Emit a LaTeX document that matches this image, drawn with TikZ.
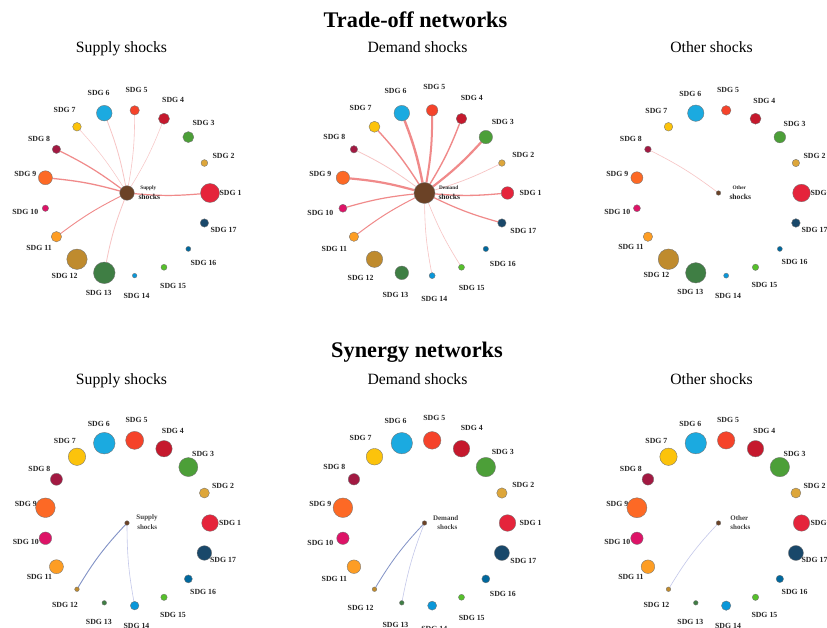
\documentclass[tikz,border=0pt]{standalone}
\usepackage{fontspec}
\setmainfont{Liberation Serif}
\usetikzlibrary{backgrounds}

% official SDG palette
\definecolor{sdg1}{HTML}{E5243B}
\definecolor{sdg2}{HTML}{DDA63A}
\definecolor{sdg3}{HTML}{4C9F38}
\definecolor{sdg4}{HTML}{C5192D}
\definecolor{sdg5}{HTML}{F5432A}
\definecolor{sdg6}{HTML}{1BAAE0}
\definecolor{sdg7}{HTML}{FCC30B}
\definecolor{sdg8}{HTML}{A21942}
\definecolor{sdg9}{HTML}{FD6925}
\definecolor{sdg10}{HTML}{DD1367}
\definecolor{sdg11}{HTML}{FD9D24}
\definecolor{sdg12}{HTML}{BF8B2E}
\definecolor{sdg13}{HTML}{3F7E44}
\definecolor{sdg14}{HTML}{0A97D9}
\definecolor{sdg15}{HTML}{56C02B}
\definecolor{sdg16}{HTML}{00689D}
\definecolor{sdg17}{HTML}{19486A}
\definecolor{shock}{HTML}{6B4226}
\definecolor{tradeA}{HTML}{F08A8A}
\definecolor{tradeB}{HTML}{F7C4C4}
\definecolor{synA}{HTML}{8292C6}
\definecolor{synB}{HTML}{C4C8EA}

\tikzset{
  sdgnode/.style={circle, draw=black!55, line width=0.35pt, inner sep=0pt, outer sep=0pt},
  sdglabel/.style={font=\bfseries\fontsize{7.8}{9}\selectfont, text=black!85, inner sep=0pt},
  bigtitle/.style={font=\bfseries\fontsize{22.3}{26}\selectfont, anchor=base},
  subtitle/.style={font=\fontsize{15.7}{18}\selectfont, anchor=base},
  shocktiny/.style={font=\bfseries\fontsize{5.3}{6}\selectfont, text=black!85, inner sep=0pt},
  shocktext/.style={font=\bfseries\fontsize{7.6}{9}\selectfont, text=black!85, inner sep=0pt},
  synshock/.style={font=\bfseries\fontsize{7}{8}\selectfont, text=black!75, inner sep=0pt},
  tlinkA/.style={draw=tradeA, line width=#1},
  tlinkB/.style={draw=tradeB, line width=#1},
}

% ring of 17 SDG nodes: #1 prefix, #2/#3 centre, #4 label radius, #5 list k/radius
\newcommand\sdgring[5]{%
  \foreach \k/\r in {#5} {%
    \pgfmathsetmacro\ang{(\k-1)*360/17}%
    \node[sdglabel] (#1l\k) at ({#2+#4*cos(\ang)},{#3-#4*sin(\ang)}) {SDG \k};
  }%
  \foreach \k/\r in {#5} {%
    \pgfmathsetmacro\ang{(\k-1)*360/17}%
    \node[sdgnode, fill=sdg\k, minimum size={2*\r pt}] (#1s\k) at ({#2+83*cos(\ang)},{#3-83*sin(\ang)}) {};
  }%
}

\begin{document}
\begin{tikzpicture}[x=1pt, y=-1pt]
\useasboundingbox (0,0) rectangle (827,628);

% headings
\node[bigtitle] (t1) at (415.5,28) {Trade-off networks};
\node[subtitle] (h1) at (121.5,53) {Supply shocks};
\node[subtitle] (h2) at (417.5,53) {Demand shocks};
\node[subtitle] (h3) at (711.5,53) {Other shocks};
\node[bigtitle] (t2) at (417,357) {Synergy networks};
\node[subtitle] (h4) at (121.5,384) {Supply shocks};
\node[subtitle] (h5) at (417.5,384) {Demand shocks};
\node[subtitle] (h6) at (711.5,384) {Other shocks};

% ---- trade-off, supply
\sdgring{a}{127}{193}{103.5}{1/9.5,2/3.4,3/5.5,4/5.5,5/4.7,6/7.8,7/4.3,8/4.2,9/7,10/3.2,11/5.2,12/10.2,13/10.8,14/2.3,15/3,16/2.5,17/4.2}
\node[sdgnode, fill=shock, minimum size=14.6pt] (ac) at (127,193) {};
\node[shocktiny] (at1) at (148.3,188.3) {Supply};
\node[shocktext] (at2) at (149.3,197) {shocks};

% ---- trade-off, demand
\sdgring{b}{424.5}{193}{106}{1/6.3,2/3.3,3/6.7,4/5.3,5/5.7,6/7.8,7/5.5,8/3.7,9/6.7,10/4,11/4.7,12/8.2,13/6.8,14/3,15/3,16/2.7,17/4.2}
\node[sdgnode, fill=shock, minimum size=21pt] (bc) at (424.5,193) {};
\node[shocktiny] (bt1) at (448.7,188) {Demand};
\node[shocktext] (bt2) at (449.3,197) {shocks};

% ---- trade-off, other
\sdgring{c}{718.5}{193}{103}{1/8.8,2/3.7,3/5.8,4/5.5,5/4.8,6/8.2,7/4.3,8/3.3,9/6,10/3.5,11/4.7,12/10.3,13/10.2,14/2.5,15/3.2,16/2.5,17/4.3}
\node[sdgnode, fill=shock, minimum size=4.6pt] (cc) at (718.5,193) {};
\node[shocktiny] (ct1) at (739.3,188) {Other};
\node[shocktext] (ct2) at (740.3,197) {shocks};

% ---- synergy, supply
\sdgring{d}{127}{523}{103}{1/8.3,2/5,3/9.5,4/8.2,5/9,6/10.8,7/8.7,8/6,9/9.8,10/6.3,11/7,12/2.3,13/2.3,14/4.3,15/3.2,16/4,17/7.3}
\node[sdgnode, fill=shock, minimum size=4.6pt] (dc) at (127,523) {};
\node[synshock] (dt1) at (147,518) {Supply};
\node[synshock] (dt2) at (147.3,527) {shocks};

% ---- synergy, demand
\sdgring{e}{424.5}{523}{106}{1/8.3,2/5.2,3/9.7,4/8.3,5/8.8,6/10.7,7/8.3,8/5.7,9/9.8,10/6.2,11/6.8,12/2.3,13/2.3,14/4.5,15/3,16/4,17/7.5}
\node[sdgnode, fill=shock, minimum size=4.6pt] (ec) at (424.5,523) {};
\node[synshock] (et1) at (445.7,518.3) {Demand};
\node[synshock] (et2) at (447.3,527.3) {shocks};

% ---- synergy, other
\sdgring{f}{718.5}{523}{103}{1/8.2,2/5,3/9.7,4/8.2,5/8.7,6/10.7,7/8.7,8/5.8,9/10,10/6.2,11/6.8,12/2.3,13/2.3,14/4.7,15/3.2,16/3.7,17/7.5}
\node[sdgnode, fill=shock, minimum size=4.6pt] (fc) at (718.5,523) {};
\node[synshock] (ft1) at (739.3,518) {Other};
\node[synshock] (ft2) at (740.3,527) {shocks};

% white page and links, behind the nodes
\begin{scope}[on background layer]
  \fill[white] (0,0) rectangle (827,628);
  \foreach \k/\w/\s in {1/1.2/A,4/0.5/B,5/0.6/B,6/0.8/B,7/0.5/B,8/1.2/A,9/1.3/A,11/0.9/A,13/0.8/B}
    \draw[tlink\s=\w pt] (ac) to[bend right=5] (as\k);
  \foreach \k/\w/\s in {1/1.3/A,2/0.7/B,3/2.2/A,4/1.4/A,5/2.0/A,6/2.4/A,7/1.4/A,8/0.8/B,9/2.2/A,10/1.2/A,11/1.0/A,14/0.6/B,15/0.6/B,17/1.2/A}
    \draw[tlink\s=\w pt] (bc) to[bend right=5] (bs\k);
  \draw[tlinkB=0.6pt] (cc) to[bend right=5] (cs8);
  \draw[draw=synA, line width=0.9pt] (dc) to[bend right=6] (ds12);
  \draw[draw=synB, line width=0.6pt] (dc) to[bend right=5] (ds14);
  \draw[draw=synA, line width=0.8pt] (ec) to[bend right=6] (es12);
  \draw[draw=synB, line width=0.6pt] (ec) to[bend right=5] (es13);
  \draw[draw=synB, line width=0.6pt] (fc) to[bend right=6] (fs12);
\end{scope}
\end{tikzpicture}
\end{document}
